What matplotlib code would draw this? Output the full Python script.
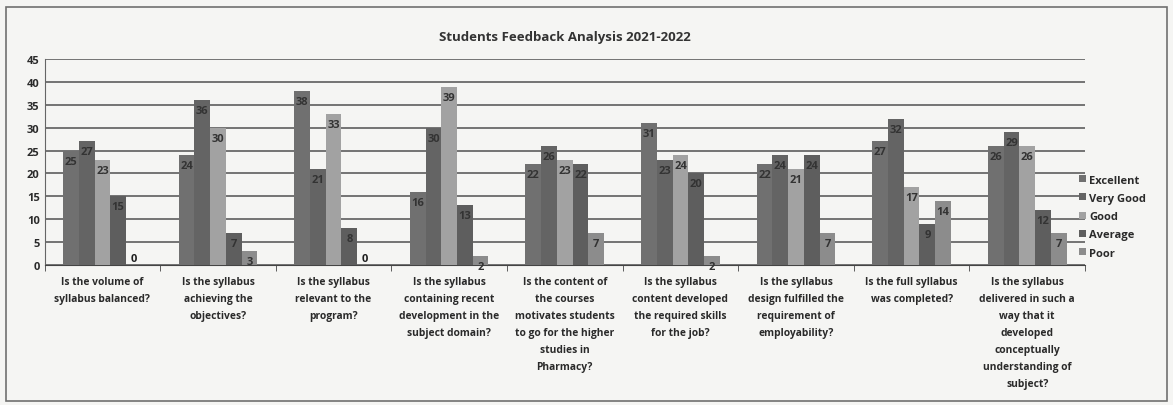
import numpy as np
import matplotlib.pyplot as plt
from matplotlib.patches import Rectangle

plt.rcParams['font.family'] = ['Open Sans', 'DejaVu Sans']
plt.rcParams['font.weight'] = 'bold'

questions = [
    "Is the volume of\nsyllabus balanced?",
    "Is the syllabus\nachieving the\nobjectives?",
    "Is the syllabus\nrelevant to the\nprogram?",
    "Is the syllabus\ncontaining recent\ndevelopment in the\nsubject domain?",
    "Is the content of\nthe courses\nmotivates students\nto go for the higher\nstudies in\nPharmacy?",
    "Is the syllabus\ncontent developed\nthe required skills\nfor the job?",
    "Is the syllabus\ndesign fulfilled the\nrequirement of\nemployability?",
    "Is the full syllabus\nwas completed?",
    "Is the syllabus\ndelivered in such a\nway that it\ndeveloped\nconceptually\nunderstanding of\nsubject?",
]
ratings = ["Excellent", "Very Good", "Good", "Average", "Poor"]
excellent = [25, 24, 38, 16, 22, 31, 22, 27, 26]
very_good = [27, 36, 21, 30, 26, 23, 24, 32, 29]
good      = [23, 30, 33, 39, 23, 24, 21, 17, 26]
average   = [15, 7, 8, 13, 22, 20, 24, 9, 12]
poor      = [0, 3, 0, 2, 7, 2, 7, 14, 7]
series = [excellent, very_good, good, average, poor]
colors = ['#707070', '#646464', '#a2a2a2', '#5e5e5e', '#8c8c8c']

fig = plt.figure(figsize=(11.73, 4.06), dpi=100, facecolor='#f5f5f3')
fig.patches.append(Rectangle((0.005, 0.01), 0.99, 0.97, transform=fig.transFigure,
                             fill=False, edgecolor='#707070', linewidth=1.2))
ax = fig.add_axes([0.038, 0.345, 0.887, 0.507])
ax.set_facecolor('#f5f5f3')

x = np.arange(len(questions))
w = 0.136
for i, (vals, c, name) in enumerate(zip(series, colors, ratings)):
    pos = x + (i - 2) * w
    ax.bar(pos, vals, width=w, color=c, label=name, zorder=3)
    for p, v in zip(pos, vals):
        if v == 0:
            ax.text(p, 1.3, str(v), ha='center', va='center', fontsize=8,
                    fontweight='bold', color='#1e1e1e', zorder=4)
        else:
            ax.text(p, v - 2.3, str(v), ha='center', va='center', fontsize=8,
                    fontweight='bold', color='#333333', zorder=4)

ax.set_ylim(0, 45)
ax.set_yticks(range(0, 46, 5))
ax.set_xlim(-0.5, len(questions) - 0.5)
ax.yaxis.grid(True, color='#505050', linewidth=1.1, zorder=0)
ax.set_xticks(x)
ax.set_xticklabels(questions, fontsize=7.4, linespacing=1.75,
                   fontweight='bold', color='#2a2a2a')
ax.set_xticks(np.arange(-0.5, len(questions)), minor=True)
ax.tick_params(axis='x', which='major', length=0, pad=8)
ax.tick_params(axis='x', which='minor', length=4, color='#444444')
ax.tick_params(axis='y', labelsize=8, length=0, labelcolor='#2a2a2a')
for lbl in ax.get_yticklabels():
    lbl.set_fontweight('bold')
for s in ['top', 'right']:
    ax.spines[s].set_visible(False)
ax.spines['left'].set_color('#666666')
ax.spines['bottom'].set_color('#444444')

ax.set_title("Students Feedback Analysis 2021-2022", fontsize=9.5,
             fontweight='bold', color='#333333', pad=14)

leg = ax.legend(loc='center left', bbox_to_anchor=(0.985, 0.235), frameon=False,
                prop={'size': 8, 'weight': 'bold'}, handlelength=0.6,
                handleheight=0.6, handletextpad=0.3, labelspacing=0.65)
for t in leg.get_texts():
    t.set_color('#2a2a2a')

fig.savefig('out.png', dpi=100, facecolor=fig.get_facecolor())
